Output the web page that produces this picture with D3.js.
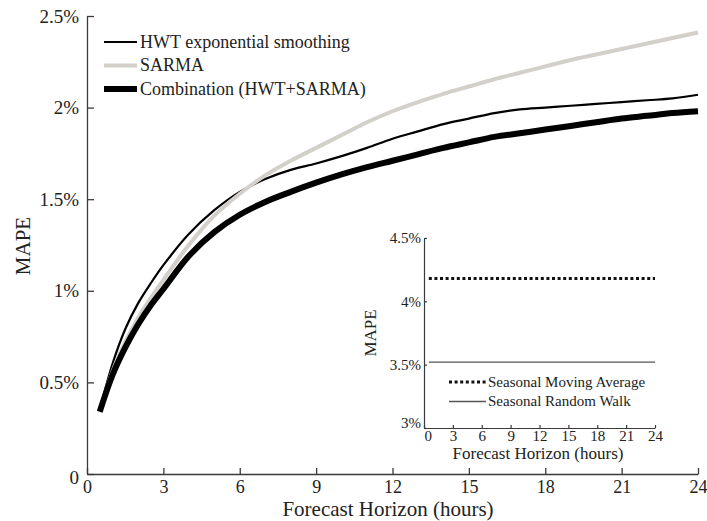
<!DOCTYPE html>
<html>
<head>
<meta charset="utf-8">
<script src="https://cdn.jsdelivr.net/npm/d3@7"></script>
<style>
  html, body { margin: 0; padding: 0; background: #fff; }
  svg { display: block; font-family: "Liberation Serif", "Times New Roman", serif; }
</style>
</head>
<body>
<svg id="chart" width="707" height="521"></svg>
<script>
// Forecast horizons (hours ahead)
const horizons = [0.5, 1, 1.5, 2, 2.5, 3, 4, 5, 6, 7, 8, 9, 10, 11, 12, 13, 14, 15, 16, 17, 18, 19, 20, 21, 22, 23, 24];

// MAPE (%) for each method
const hwt = [0.35, 0.60, 0.79, 0.93, 1.04, 1.14, 1.31, 1.44, 1.54, 1.61, 1.66, 1.695, 1.735, 1.78, 1.83, 1.87, 1.91, 1.94, 1.97, 1.99, 2.00, 2.01, 2.02, 2.03, 2.04, 2.05, 2.07];
const sarma = [0.34, 0.56, 0.72, 0.85, 0.96, 1.06, 1.25, 1.41, 1.53, 1.63, 1.71, 1.78, 1.85, 1.92, 1.98, 2.03, 2.075, 2.115, 2.155, 2.19, 2.225, 2.26, 2.29, 2.32, 2.35, 2.38, 2.41];
const combination = [0.34, 0.54, 0.69, 0.815, 0.92, 1.01, 1.19, 1.32, 1.415, 1.485, 1.54, 1.59, 1.635, 1.675, 1.71, 1.745, 1.78, 1.81, 1.84, 1.86, 1.88, 1.90, 1.92, 1.94, 1.955, 1.97, 1.98];

// Benchmark methods (flat across horizons)
const benchHorizons = [0.5, 24];
const seasonalMovingAverage = [4.18, 4.18];
const seasonalRandomWalk = [3.52, 3.52];

// Tick values
const xTicks = [0, 3, 6, 9, 12, 15, 18, 21, 24];
const yTicks = [0, 0.5, 1, 1.5, 2, 2.5];
const insetYTicks = [3, 3.5, 4, 4.5];

const seriesNames = ["HWT exponential smoothing", "SARMA", "Combination (HWT+SARMA)"];
const benchNames = ["Seasonal Moving Average", "Seasonal Random Walk"];

const svg = d3.select("#chart");
const axisColor = "#3a3a3a";
const textColor = "#222";

// ---------- Main panel ----------
const x = d3.scaleLinear().domain([0, 24]).range([87, 698]);
const y = d3.scaleLinear().domain([0, 2.5]).range([474, 16]);

const pctFmt = v => v === 0 ? "0" : `${v}%`;

const xAxis = svg.append("g")
  .attr("transform", `translate(0,${y(0)})`)
  .call(d3.axisBottom(x).tickValues(xTicks).tickSizeInner(-6).tickSizeOuter(0).tickPadding(6).tickFormat(d3.format("d")));
const yAxis = svg.append("g")
  .attr("transform", `translate(${x(0)},0)`)
  .call(d3.axisLeft(y).tickValues(yTicks).tickSizeInner(-7).tickSizeOuter(0).tickPadding(8).tickFormat(pctFmt));

[xAxis, yAxis].forEach(g => {
  g.select(".domain").attr("stroke", axisColor).attr("stroke-width", 1.3);
  g.selectAll(".tick line").attr("stroke", axisColor).attr("stroke-width", 1.3);
  g.selectAll(".tick text").attr("fill", textColor).style("font-family", "Liberation Serif, serif");
});
yAxis.selectAll(".tick text").style("font-size", "19px");
xAxis.selectAll(".tick text").style("font-size", "18px");
yAxis.selectAll(".tick text").filter(d => d === 0).attr("dy", "0.5em");

svg.append("text")
  .attr("x", 388).attr("y", 516)
  .attr("text-anchor", "middle")
  .attr("fill", textColor)
  .style("font-size", "21px")
  .text("Forecast Horizon (hours)");

svg.append("text")
  .attr("transform", "translate(30,246) rotate(-90)")
  .attr("text-anchor", "middle")
  .attr("fill", textColor)
  .style("font-size", "21px")
  .text("MAPE");

const line = d3.line().x(d => x(d[0])).y(d => y(d[1])).curve(d3.curveCatmullRom.alpha(0.5));

const series = [
  { name: seriesNames[0], values: hwt, color: "#000", width: 2.2 },
  { name: seriesNames[1], values: sarma, color: "#d3cfca", width: 4 },
  { name: seriesNames[2], values: combination, color: "#000", width: 6 }
];

svg.append("g").selectAll("path")
  .data(series)
  .join("path")
  .attr("d", s => line(horizons.map((h, i) => [h, s.values[i]])))
  .attr("fill", "none")
  .attr("stroke", s => s.color)
  .attr("stroke-width", s => s.width)
  .attr("stroke-linecap", "butt")
  .attr("stroke-linejoin", "round");

// Legend
const legend = svg.append("g");
series.forEach((s, i) => {
  const ly = 42 + i * 23.5;
  legend.append("line")
    .attr("x1", 104).attr("x2", 137).attr("y1", ly).attr("y2", ly)
    .attr("stroke", s.color).attr("stroke-width", s.width);
  legend.append("text")
    .attr("x", 140).attr("y", ly).attr("dy", "0.33em")
    .attr("fill", textColor)
    .style("font-size", "18px")
    .text(s.name);
});

// ---------- Inset panel ----------
const ix = d3.scaleLinear().domain([0, 24]).range([424, 655]);
const iy = d3.scaleLinear().domain([3, 4.5]).range([428, 238]);

const ixAxis = svg.append("g")
  .attr("transform", `translate(0,${iy(3)})`)
  .call(d3.axisBottom(ix).tickValues(xTicks).tickSizeInner(-3).tickSizeOuter(0).tickPadding(2).tickFormat(d3.format("d")));
const iyAxis = svg.append("g")
  .attr("transform", `translate(${ix(0)},0)`)
  .call(d3.axisLeft(iy).tickValues(insetYTicks).tickSizeInner(-3).tickSizeOuter(0).tickPadding(3).tickFormat(v => `${v}%`));

[ixAxis, iyAxis].forEach(g => {
  g.select(".domain").attr("stroke", axisColor).attr("stroke-width", 1.2);
  g.selectAll(".tick line").attr("stroke", axisColor).attr("stroke-width", 1.2);
  g.selectAll(".tick text").attr("fill", textColor).style("font-size", "15px").style("font-family", "Liberation Serif, serif");
});
iyAxis.selectAll(".tick text").filter(d => d === 3).attr("dy", "-0.05em");
ixAxis.selectAll(".tick text").filter(d => d === 0).attr("dx", "0.25em");

svg.append("text")
  .attr("x", 538).attr("y", 459)
  .attr("text-anchor", "middle")
  .attr("fill", textColor)
  .style("font-size", "17px")
  .text("Forecast Horizon (hours)");

svg.append("text")
  .attr("transform", "translate(376,333) rotate(-90)")
  .attr("text-anchor", "middle")
  .attr("fill", textColor)
  .style("font-size", "17px")
  .text("MAPE");

const bench = [
  { name: benchNames[0], values: seasonalMovingAverage, color: "#111", width: 3, dash: "3,2.6" },
  { name: benchNames[1], values: seasonalRandomWalk, color: "#555", width: 1.4, dash: null }
];

const iline = d3.line().x(d => ix(d[0])).y(d => iy(d[1]));

svg.append("g").selectAll("path")
  .data(bench)
  .join("path")
  .attr("d", b => iline(benchHorizons.map((h, i) => [h, b.values[i]])))
  .attr("fill", "none")
  .attr("stroke", b => b.color)
  .attr("stroke-width", b => b.width)
  .attr("stroke-dasharray", b => b.dash);

const ilegend = svg.append("g");
bench.forEach((b, i) => {
  const ly = 382 + i * 19.5;
  ilegend.append("line")
    .attr("x1", 449).attr("x2", 486).attr("y1", ly).attr("y2", ly)
    .attr("stroke", b.color).attr("stroke-width", b.width)
    .attr("stroke-dasharray", b.dash);
  ilegend.append("text")
    .attr("x", 488).attr("y", ly).attr("dy", "0.33em")
    .attr("fill", textColor)
    .style("font-size", "15px")
    .text(b.name);
});
</script>
</body>
</html>
